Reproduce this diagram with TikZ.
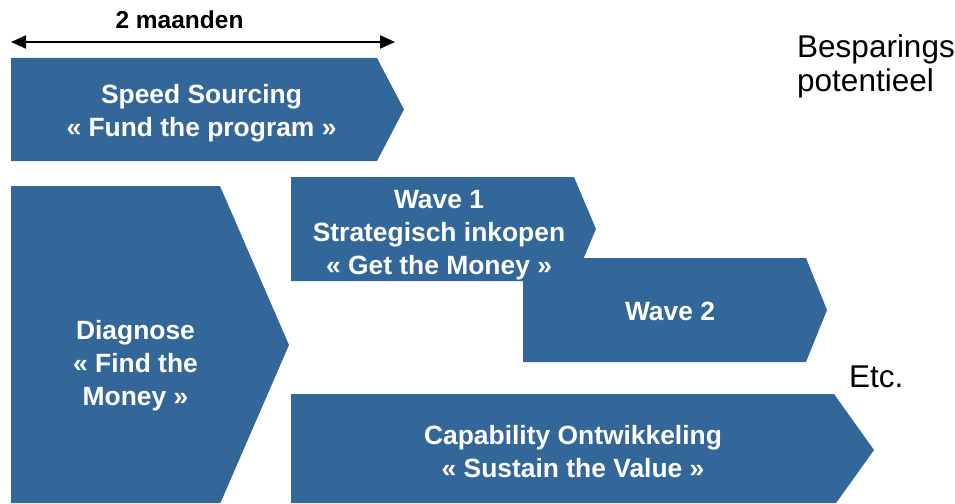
\documentclass[tikz,border=0pt]{standalone}
\usepackage{fontspec}
\setmainfont{Liberation Sans}
\usetikzlibrary{arrows.meta}
\definecolor{phase}{RGB}{52,103,153}
\tikzset{
  phasebox/.style={fill=phase},
  phasetext/.style={anchor=base, inner sep=0pt, text=white,
    font=\bfseries\fontsize{26.4}{33}\selectfont},
  plaintext/.style={anchor=base west, inner sep=0pt, text=black,
    font=\fontsize{31.5}{34}\selectfont},
  spanarrow/.style={{Triangle[length=15pt,width=13pt]}-{Triangle[length=15pt,width=13pt]}, line width=2pt}
}
\newcommand{\lines}[1]{\begin{tabular}[t]{@{}c@{}}#1\end{tabular}}
\begin{document}
\begin{tikzpicture}[x=1pt,y=-1pt]
\useasboundingbox (0,0) rectangle (955,503);
% time span
\coordinate (spanL) at (11,42);
\coordinate (spanR) at (395,42);
\draw[spanarrow] (spanL) -- (spanR);
\node[anchor=base, inner sep=0pt, font=\bfseries\fontsize{24.5}{28}\selectfont] (span) at (179.5,29) {2 maanden};
% phase shapes
\fill[phasebox] (11,58) -- (377,58) -- (404,109.5) -- (377,161) -- (11,161) -- cycle;
\fill[phasebox] (11,186) -- (220,186) -- (289,345) -- (220.4,503) -- (11,503) -- cycle;
\fill[phasebox] (291,177) -- (574,177) -- (596,229) -- (574,281) -- (291,281) -- cycle;
\fill[phasebox] (523,258) -- (806,258) -- (827,310) -- (806,362) -- (523,362) -- cycle;
\fill[phasebox] (291,394) -- (834,394) -- (874,450) -- (836.1,503) -- (291,503) -- cycle;
% phase texts
\node[phasetext] (speed) at (201.5,103) {\lines{Speed Sourcing\\« Fund the program »}};
\node[phasetext] (diag) at (135.5,339) {\lines{Diagnose\\« Find the\\Money »}};
\node[phasetext] (wave1) at (439,208) {\lines{Wave 1\\Strategisch inkopen\\« Get the Money »}};
\node[phasetext] (wave2) at (670,320) {Wave 2};
\node[phasetext] (capab) at (573,444) {\lines{Capability Ontwikkeling\\« Sustain the Value »}};
% side texts
\node[plaintext] (besp) at (797,57) {\begin{tabular}[t]{@{}l@{}}Besparings\\potentieel\end{tabular}};
\node[plaintext] (etc) at (849,387) {Etc.};
\end{tikzpicture}
\end{document}
